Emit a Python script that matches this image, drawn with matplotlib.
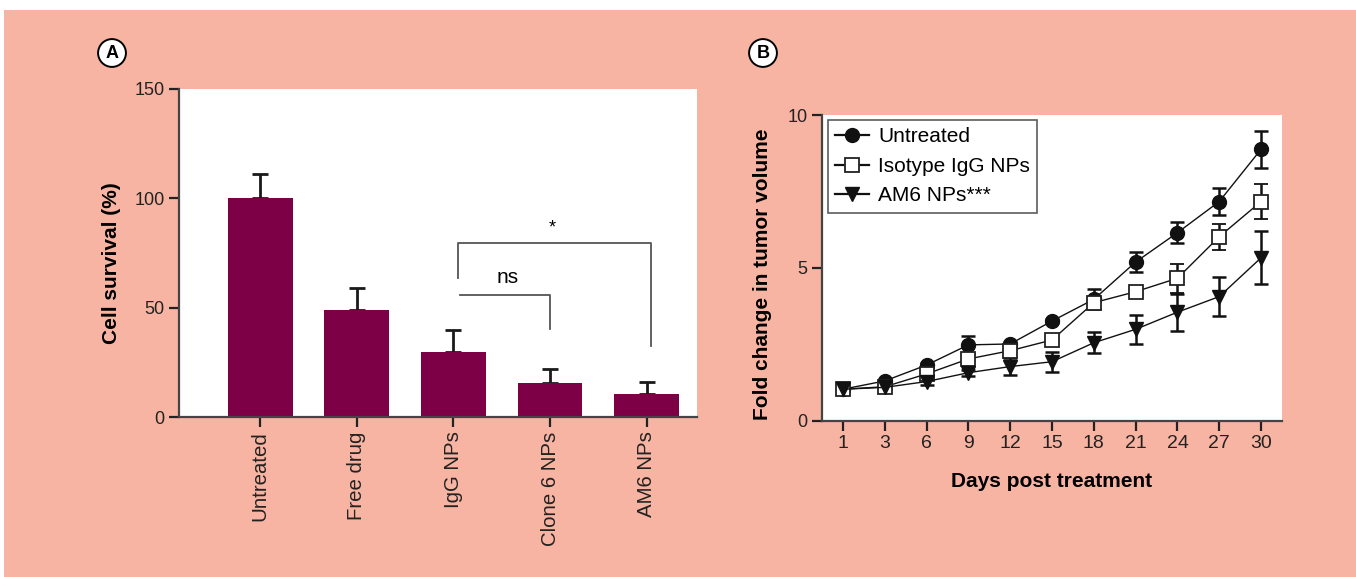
import matplotlib
matplotlib.use('Agg')
import matplotlib.pyplot as plt
from matplotlib.patches import Rectangle

plt.rcParams['font.family'] = ['Liberation Sans', 'DejaVu Sans']

# panel A data
groups = ['Untreated', 'Free drug', 'IgG NPs', 'Clone 6 NPs', 'AM6 NPs']
survival = [100, 48.8, 29.6, 15.5, 10.5]
survival_err = [11.2, 10.2, 10.2, 6.4, 5.6]

# panel B data
days = ['1', '3', '6', '9', '12', '15', '18', '21', '24', '27', '30']
untreated = [1.03, 1.30, 1.82, 2.48, 2.51, 3.26, 3.97, 5.19, 6.15, 7.17, 8.88]
untreated_err = [0.05, 0.06, 0.08, 0.29, 0.08, 0.08, 0.33, 0.33, 0.35, 0.45, 0.61]
isotype = [1.03, 1.11, 1.53, 2.02, 2.29, 2.64, 3.86, 4.22, 4.66, 6.02, 7.17]
isotype_err = [0.05, 0.06, 0.1, 0.15, 0.1, 0.1, 0.15, 0.1, 0.48, 0.42, 0.56]
am6 = [1.03, 1.09, 1.28, 1.57, 1.77, 1.93, 2.55, 2.99, 3.55, 4.06, 5.33]
am6_err = [0.05, 0.06, 0.1, 0.1, 0.27, 0.33, 0.34, 0.48, 0.6, 0.63, 0.86]

salmon = '#f8b4a2'
bar_col = '#7d0046'
spine_col = '#444444'

fig = plt.figure(figsize=(13.56, 5.77), dpi=100, facecolor='white')
fig.patches.append(Rectangle((4/1356, 0), 1, 567/577, transform=fig.transFigure,
                             facecolor=salmon, edgecolor='none', zorder=-10))

### panel A ###
axA = fig.add_axes([179/1356, 160/577, 518/1356, 328/577])
x = list(range(len(groups)))
axA.bar(x, survival, width=0.67, color=bar_col, zorder=2)
axA.errorbar(x, survival, yerr=[[0]*len(x), survival_err], fmt='none',
             ecolor='#1a1a1a', elinewidth=2, capsize=6, capthick=2, zorder=1)
axA.set_xlim(-0.84, 4.52)
axA.set_ylim(0, 150)
axA.set_yticks([0, 50, 100, 150])
axA.set_xticks(x)
axA.set_xticklabels(groups, rotation=90, fontsize=14.7)
axA.set_ylabel('Cell survival (%)', fontsize=15, fontweight='bold')
axA.yaxis.set_label_coords(-0.112, 0.47)

# significance brackets
br = '#555555'
axA.plot([2.05, 2.05, 4.04, 4.04], [63.4, 79.7, 79.7, 32.6], color=br, lw=1.3)
axA.text(3.02, 86.5, '*', ha='center', va='center', fontsize=13)
axA.plot([2.07, 3.0, 3.0], [55.9, 55.9, 40.1], color=br, lw=1.3)
axA.text(2.56, 64, 'ns', ha='center', va='center', fontsize=15)

### panel B ###
axB = fig.add_axes([822/1356, 156.3/577, 460/1356, 305.7/577])
xi = list(range(len(days)))
style = dict(color='#111111', lw=1, elinewidth=1.8, capsize=5, capthick=1.8)
e1 = axB.errorbar(xi, untreated, yerr=untreated_err, marker='o', markersize=10,
                  mfc='#111111', mec='#111111', label='Untreated', **style)
e2 = axB.errorbar(xi, isotype, yerr=isotype_err, marker='s', markersize=10,
                  mfc='white', mec='#222222', mew=1.3, label='Isotype IgG NPs', **style)
e3 = axB.errorbar(xi, am6, yerr=am6_err, marker='v', markersize=10,
                  mfc='#111111', mec='#111111', label='AM6 NPs***', **style)
axB.set_xlim(-0.5, 10.5)
axB.set_ylim(0, 10)
axB.set_yticks([0, 5, 10])
axB.set_xticks(xi)
axB.set_xticklabels(days, fontsize=14)
axB.set_xlabel('Days post treatment', fontsize=15, fontweight='bold')
axB.xaxis.set_label_coords(0.5, -0.168)
axB.set_ylabel('Fold change in tumor volume', fontsize=15, fontweight='bold')
axB.yaxis.set_label_coords(-0.109, 0.48)
# legend without the error bar glyphs
leg = axB.legend(handles=[e1[0], e2[0], e3[0]],
                 labels=['Untreated', 'Isotype IgG NPs', 'AM6 NPs***'],
                 loc='upper left', bbox_to_anchor=(0.013, 0.983), borderaxespad=0,
                 fancybox=False, edgecolor='#333333', fontsize=15,
                 handlelength=1.6, handletextpad=0.45, borderpad=0.35,
                 labelspacing=0.5)
leg.get_frame().set_linewidth(1.2)
for h in leg.get_lines():
    h.set_linewidth(1.6)

for ax in (axA, axB):
    ax.set_facecolor('white')
    ax.spines['top'].set_visible(False)
    ax.spines['right'].set_visible(False)
    for s in ('left', 'bottom'):
        ax.spines[s].set_color(spine_col)
        ax.spines[s].set_linewidth(1.6)
    ax.tick_params(direction='out', length=7, width=1.6, color='#222222',
                   labelcolor='#222222')
    ax.tick_params(axis='y', labelsize=13)

# panel letters
for px, letter in ((112, 'A'), (763, 'B')):
    fig.text(px/1356, 1 - 53/577, letter, ha='center', va='center',
             fontsize=13, fontweight='bold',
             bbox=dict(boxstyle='circle,pad=0.3', fc='white', ec='black', lw=1.4))

fig.savefig('out.png', dpi=100, facecolor=fig.get_facecolor())
